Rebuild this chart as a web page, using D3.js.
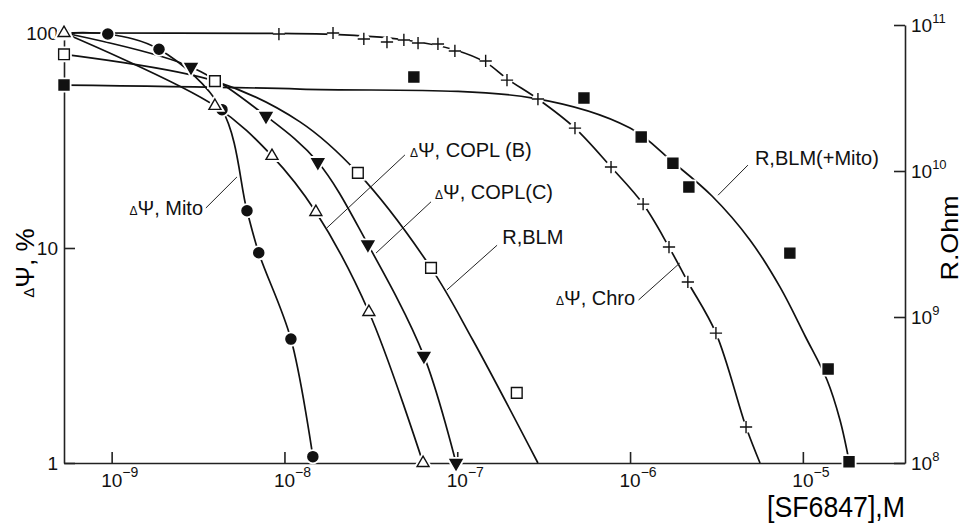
<!DOCTYPE html>
<html>
<head>
<meta charset="utf-8">
<script src="https://cdn.jsdelivr.net/npm/d3@7"></script>
<style>
  body { margin: 0; background: #fff; }
  svg { display: block; font-family: "Liberation Sans", Arial, sans-serif; }
</style>
</head>
<body>
<svg id="chart" width="965" height="523"></svg>
<script>
// control (no SF6847) is plotted on the left axis
const CONTROL = 5.3e-10;

const xTicks   = [1e-9, 1e-8, 1e-7, 1e-6, 1e-5];
const xTickExp = ["\u22129", "\u22128", "\u22127", "\u22126", "\u22125"];
const psiTicks = [1, 10, 100];
const ohmTicks = [1e8, 1e9, 1e10, 1e11];
const ohmTickExp = ["8", "9", "10", "11"];

// ΔΨ, Mito  (filled circles)
const mitoConc = [5.3e-10, 9.5e-10, 1.88e-9, 4.35e-9, 6.07e-9, 7.1e-9, 1.09e-8, 1.46e-8];
const mitoPsi  = [100, 98.9, 84, 44, 14.9, 9.5, 3.77, 1.07];

// ΔΨ, COPL(B)  (open triangles)
const coplBConc = [5.3e-10, 3.96e-9, 8.47e-9, 1.52e-8, 3.08e-8, 6.34e-8];
const coplBPsi  = [100, 45.8, 26.8, 14.7, 5.04, 1];

// ΔΨ, COPL(C)  (filled triangles)
const coplCConc = [2.88e-9, 7.82e-9, 1.56e-8, 3.04e-8, 6.41e-8, 9.84e-8];
const coplCPsi  = [69.5, 41.1, 25.1, 10.4, 3.15, 1];

// ΔΨ, Chro  (crosses) and its drawn curve
const chroConc = [9.29e-9, 1.91e-8, 2.88e-8, 3.92e-8, 4.91e-8, 5.93e-8, 7.73e-8, 9.69e-8,
                  1.46e-7, 1.94e-7, 2.93e-7, 4.8e-7, 7.76e-7, 1.19e-6, 1.68e-6, 2.16e-6,
                  3.14e-6, 4.69e-6];
const chroPsi  = [98.9, 100, 93.8, 90.8, 92.8, 89.8, 88.9, 82.5, 74.1, 60.4, 49.3, 36.1,
                  23.8, 16.0, 10.1, 6.95, 4.02, 1.47];
const chroFitConc = [5.3e-10, 9.29e-9, 1.91e-8, 4.66e-8, 9.71e-8, 1.46e-7, 1.95e-7, 2.93e-7,
                     4.8e-7, 7.76e-7, 1.19e-6, 1.68e-6, 2.16e-6, 3.14e-6, 4.69e-6, 5.65e-6];
const chroFitPsi  = [100, 99.5, 98.5, 93.5, 83.4, 73, 61.1, 49.3,
                     36.1, 23.8, 16.0, 10.1, 6.95, 4.02, 1.47, 1];

// R, BLM  (open squares, right axis) and its drawn curve
const rBlmConc = [5.3e-10, 3.96e-9, 2.66e-8, 7.05e-8, 2.21e-7];
const rBlmOhm  = [6.3e10, 4.13e10, 9.7e9, 2.17e9, 3.02e8];
const rBlmFitConc = [5.3e-10, 3.96e-9, 1.23e-8, 2.66e-8, 7.05e-8, 1.23e-7, 2.93e-7];
const rBlmFitOhm  = [6.3e10, 4.13e10, 2.17e10, 9.7e9, 2.17e9, 6.96e8, 1e8];

// R, BLM(+Mito)  (filled squares, right axis) and its drawn curve
const rMitoConc = [5.3e-10, 5.61e-8, 5.41e-7, 1.16e-6, 1.77e-6, 2.19e-6, 8.41e-6, 1.40e-5, 1.85e-5];
const rMitoOhm  = [3.88e10, 4.4e10, 3.16e10, 1.71e10, 1.13e10, 7.77e9, 2.74e9, 4.4e8, 1.02e8];
const rMitoFitConc = [5.3e-10, 1.23e-8, 2.74e-7, 1.0e-6, 1.77e-6, 2.98e-6, 4.94e-6, 7.38e-6,
                      1.03e-5, 1.38e-5, 1.64e-5, 1.86e-5];
const rMitoFitOhm  = [3.88e10, 3.64e10, 3.16e10, 1.97e10, 1.15e10, 6.74e9, 3.37e9, 1.60e9,
                      7.41e8, 3.70e8, 1.97e8, 1e8];

// curve labels, placed in (conc, ΔΨ %) coordinates
const notes = [
  { delta: true,  text: "Ψ, Mito",      at: [3.38e-9, 15.35], anchor: "end",   from: [3.51e-9, 15.35], to: [5.31e-9, 21.4] },
  { delta: true,  text: "Ψ, COPL (B)",  at: [5.32e-8, 28.6],  anchor: "start", from: [4.98e-8, 27.1],  to: [1.76e-8, 12.4] },
  { delta: true,  text: "Ψ, COPL(C)",   at: [7.43e-8, 18.2],  anchor: "start", from: [7.05e-8, 16.4],  to: [3.39e-8, 9.48] },
  { delta: false, text: "R,BLM",        at: [1.82e-7, 11.25], anchor: "start", from: [1.70e-7, 10.3],  to: [8.71e-8, 6.38] },
  { delta: true,  text: "Ψ, Chro",      at: [1.07e-6, 5.85],  anchor: "end",   from: [1.12e-6, 5.73],  to: [1.94e-6, 8.51] },
  { delta: false, text: "R,BLM(+Mito)", at: [5.28e-6, 26.2],  anchor: "start", from: [4.81e-6, 24.3],  to: [3.23e-6, 17.6] },
];

const svg = d3.select("#chart");

const x    = d3.scaleLog().domain([5.3e-10, 3.9e-5]).range([64, 905]);
const yPsi = d3.scaleLog().domain([1, 100]).range([463, 33]);
const yOhm = d3.scaleLog().domain([1e8, 1e11]).range([463, 25]);

// axes
const axisColor = "#222";

const xAxis = svg.append("g")
  .attr("transform", "translate(0,463)")
  .call(d3.axisBottom(x).tickValues(xTicks).tickSizeInner(-11).tickSizeOuter(0).tickFormat(""));
xAxis.selectAll(".tick").append("text")
  .attr("x", -11).attr("y", 24)
  .attr("text-anchor", "start").attr("fill", "#111")
  .style("font-size", "19px")
  .each(function(d, i) {
    const t = d3.select(this);
    t.append("tspan").text("10");
    t.append("tspan").attr("dy", -10).style("font-size", "14px").text(xTickExp[i]);
  });

const yAxisL = svg.append("g")
  .attr("transform", "translate(64,0)")
  .call(d3.axisLeft(yPsi).tickValues(psiTicks).tickSizeInner(-11).tickSizeOuter(0).tickFormat(""));
yAxisL.selectAll(".tick").append("text")
  .attr("x", -6).attr("dy", "0.35em")
  .attr("text-anchor", "end").attr("fill", "#111")
  .style("font-size", "19px")
  .text(d => d);

const yAxisR = svg.append("g")
  .attr("transform", "translate(905,0)")
  .call(d3.axisRight(yOhm).tickValues(ohmTicks).tickSizeInner(-11).tickSizeOuter(0).tickFormat(""));
yAxisR.selectAll(".tick").append("text")
  .attr("x", 6).attr("y", 6)
  .attr("text-anchor", "start").attr("fill", "#111")
  .style("font-size", "19px")
  .each(function(d, i) {
    const t = d3.select(this);
    t.append("tspan").text("10");
    t.append("tspan").attr("dy", -9).style("font-size", "13px").text(ohmTickExp[i]);
  });

svg.selectAll(".domain, .tick line")
  .attr("stroke", axisColor).attr("stroke-width", 1.6);

// axis titles
svg.append("text")
  .attr("x", 905).attr("y", 517)
  .attr("text-anchor", "end")
  .attr("textLength", 138).attr("lengthAdjust", "spacingAndGlyphs")
  .style("font-size", "30px")
  .text("[SF6847],M");

const leftTitle = svg.append("text")
  .attr("transform", "translate(34,263) rotate(-90)")
  .attr("text-anchor", "middle")
  .style("font-size", "26px");
leftTitle.append("tspan").style("font-size", "15px").text("Δ");
leftTitle.append("tspan").text("Ψ, %");

svg.append("text")
  .attr("transform", "translate(958,238) rotate(-90)")
  .attr("text-anchor", "middle")
  .attr("textLength", 85).attr("lengthAdjust", "spacingAndGlyphs")
  .style("font-size", "24px")
  .text("R.Ohm");

// curves
const pts = (xs, ys) => d3.zip(xs, ys);
const smooth = d3.curveCatmullRom.alpha(0.5);
const lineL = d3.line().x(d => x(d[0])).y(d => yPsi(d[1])).curve(smooth);
const lineR = d3.line().x(d => x(d[0])).y(d => yOhm(d[1])).curve(smooth);

const curves = [
  lineL(pts(mitoConc, mitoPsi)),
  lineL(pts(coplBConc, coplBPsi)),
  lineL([[CONTROL, 100], ...pts(coplCConc, coplCPsi)]),
  lineL(pts(chroFitConc, chroFitPsi)),
  lineR(pts(rBlmFitConc, rBlmFitOhm)),
  lineR(pts(rMitoFitConc, rMitoFitOhm)),
];

svg.append("g").selectAll("path")
  .data(curves)
  .join("path")
  .attr("d", d => d)
  .attr("fill", "none")
  .attr("stroke", "#111")
  .attr("stroke-width", 1.7);

// markers
const plus = {
  draw(ctx, size) {
    const r = Math.sqrt(size) / 2;
    ctx.moveTo(-r, 0); ctx.lineTo(r, 0);
    ctx.moveTo(0, -r); ctx.lineTo(0, r);
  }
};

const markerSets = [
  { data: pts(mitoConc, mitoPsi),   y: yPsi, type: d3.symbolCircle,   size: 80,  fill: "#111", rot: 0 },
  { data: pts(coplBConc, coplBPsi), y: yPsi, type: d3.symbolTriangle, size: 62,  fill: "#fff", rot: 0 },
  { data: pts(coplCConc, coplCPsi), y: yPsi, type: d3.symbolTriangle, size: 62,  fill: "#111", rot: 180 },
  { data: pts(chroConc, chroPsi),   y: yPsi, type: plus,              size: 150, fill: "none", rot: 0 },
  { data: pts(rBlmConc, rBlmOhm),   y: yOhm, type: d3.symbolSquare,   size: 115, fill: "#fff", rot: 0 },
  { data: pts(rMitoConc, rMitoOhm), y: yOhm, type: d3.symbolSquare,   size: 100, fill: "#111", rot: 0 },
];

markerSets.forEach(m => {
  const sym = d3.symbol().type(m.type).size(m.size);
  const halo = m.type === plus ? d3.symbol().type(d3.symbolCircle).size(110) : sym;
  const g = svg.append("g");
  // white halo breaks the curve around each marker
  g.selectAll(".halo")
    .data(m.data)
    .join("path")
    .attr("class", "halo")
    .attr("transform", d => `translate(${x(d[0])},${m.y(d[1])}) rotate(${m.rot})`)
    .attr("d", halo)
    .attr("fill", "#fff")
    .attr("stroke", "#fff")
    .attr("stroke-width", m.type === plus ? 0 : 5);
  g.selectAll(".mk")
    .data(m.data)
    .join("path")
    .attr("class", "mk")
    .attr("transform", d => `translate(${x(d[0])},${m.y(d[1])}) rotate(${m.rot})`)
    .attr("d", sym)
    .attr("fill", m.fill)
    .attr("stroke", "#111")
    .attr("stroke-width", 1.4);
});

// curve labels with leader lines
const noteG = svg.append("g");
noteG.selectAll("line")
  .data(notes)
  .join("line")
  .attr("x1", d => x(d.from[0])).attr("y1", d => yPsi(d.from[1]))
  .attr("x2", d => x(d.to[0])).attr("y2", d => yPsi(d.to[1]))
  .attr("stroke", "#222").attr("stroke-width", 1);

noteG.selectAll("text")
  .data(notes)
  .join("text")
  .attr("x", d => x(d.at[0])).attr("y", d => yPsi(d.at[1]))
  .attr("dy", "0.35em")
  .attr("text-anchor", d => d.anchor)
  .attr("fill", "#111")
  .style("font-size", "20px")
  .each(function(d) {
    const t = d3.select(this);
    if (d.delta) t.append("tspan").style("font-size", "12px").text("Δ");
    t.append("tspan").text(d.text);
  });
</script>
</body>
</html>
